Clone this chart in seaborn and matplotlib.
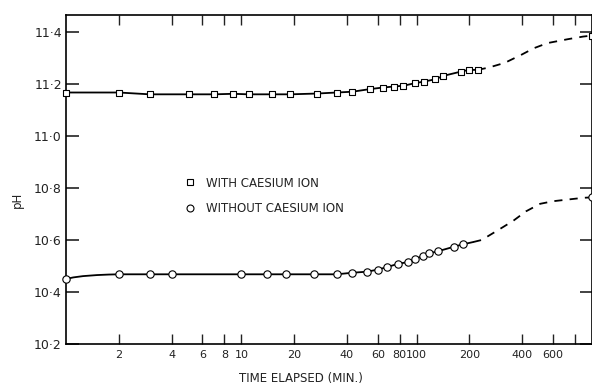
import matplotlib
matplotlib.use("Agg")
import matplotlib.pyplot as plt
import seaborn as sns
from matplotlib.lines import Line2D
from matplotlib.ticker import FixedLocator, FixedFormatter, NullLocator

# ---- data ----
with_t = [1, 2, 3, 5, 7, 9, 11, 15, 19, 27, 35, 43, 54, 64, 74, 84, 98, 110, 128, 142, 178, 198, 223]
with_ph = [11.167, 11.167, 11.160, 11.160, 11.160, 11.162, 11.160, 11.160, 11.160, 11.163, 11.167,
           11.170, 11.180, 11.186, 11.190, 11.193, 11.203, 11.209, 11.218, 11.231, 11.247, 11.254, 11.254]
with_ext_t = [223, 258, 318, 398, 465, 557, 728, 889, 1000]
with_ext_ph = [11.254, 11.263, 11.281, 11.313, 11.337, 11.357, 11.372, 11.382, 11.386]

without_t = [1, 2, 3, 4, 10, 14, 18, 26, 35, 43, 52, 60, 68, 78, 89, 98, 108, 117, 133, 163, 183]
without_ph = [10.450, 10.468, 10.468, 10.468, 10.468, 10.468, 10.468, 10.468, 10.468, 10.474, 10.478,
              10.486, 10.496, 10.508, 10.515, 10.527, 10.538, 10.548, 10.557, 10.574, 10.583]
without_head_t = [1, 1.1, 1.25, 1.5, 1.75, 2]
without_head_ph = [10.450, 10.456, 10.461, 10.465, 10.467, 10.468]
without_ext_t = [183, 210, 235, 298, 356, 420, 506, 600, 740, 890, 1000]
without_ext_ph = [10.583, 10.592, 10.600, 10.642, 10.674, 10.710, 10.739, 10.749, 10.756, 10.762, 10.764]

end_t = [1000]
with_end_ph = [11.386]
without_end_ph = [10.764]

x_ticks = [2, 4, 6, 8, 10, 20, 40, 60, 80, 100, 200, 400, 600, 800]
x_labels = ["2", "4", "6", "8", "10", "20", "40", "60", "80", "100", "200", "400", "600", ""]
y_ticks = [10.2, 10.4, 10.6, 10.8, 11.0, 11.2, 11.4]
y_labels = ["10·2", "10·4", "10·6", "10·8", "11·0", "11·2", "11·4"]

sns.set_theme(style="ticks")
plt.rcParams['font.family'] = ['DejaVu Sans']

fig = plt.figure(figsize=(5.92, 3.85), dpi=100)
ax = fig.add_axes([66 / 592, 41 / 385, 526 / 592, 329 / 385])

lw = 1.3
dash = (0, (4.5, 4.0))
# solid curves through the measured points
sns.lineplot(x=with_t, y=with_ph, ax=ax, color="black", lw=lw, sort=False, estimator=None)
sns.lineplot(x=without_head_t + without_t[1:], y=without_head_ph + without_ph[1:], ax=ax,
             color="black", lw=lw, sort=False, estimator=None)
sns.lineplot(x=without_ext_t[:2], y=without_ext_ph[:2], ax=ax, color="black", lw=lw,
             sort=False, estimator=None)
# dashed extrapolation
sns.lineplot(x=with_ext_t, y=with_ext_ph, ax=ax, color="black", lw=lw, sort=False,
             estimator=None, linestyle=dash)
sns.lineplot(x=without_ext_t[1:], y=without_ext_ph[1:], ax=ax, color="black", lw=lw, sort=False,
             estimator=None, linestyle=dash)

# markers
sns.scatterplot(x=with_t + end_t, y=with_ph + with_end_ph, ax=ax, marker="s", s=22,
                facecolor="white", edgecolor="black", linewidth=0.8, zorder=5, clip_on=False)
sns.scatterplot(x=without_t + end_t, y=without_ph + without_end_ph, ax=ax, marker="o", s=28,
                facecolor="white", edgecolor="black", linewidth=0.8, zorder=5, clip_on=False)

ax.set_xscale("log")
ax.set_xlim(1, 1000)
ax.set_ylim(10.2, 11.465)

ax.xaxis.set_major_locator(FixedLocator(x_ticks))
ax.xaxis.set_major_formatter(FixedFormatter(x_labels))
ax.xaxis.set_minor_locator(NullLocator())
ax.yaxis.set_major_locator(FixedLocator(y_ticks))
ax.yaxis.set_major_formatter(FixedFormatter(y_labels))
ax.yaxis.set_minor_locator(NullLocator())

ax.tick_params(axis="x", which="major", direction="in", length=7.5, width=1.0, top=True,
               labelsize=8, pad=4, colors="#222222")
ax.tick_params(axis="y", which="major", direction="in", length=9, width=1.2, right=True,
               labelsize=9, pad=3, colors="#222222")
for sp in ax.spines.values():
    sp.set_visible(True)
    sp.set_linewidth(1.2)
    sp.set_color("black")

ax.set_xlabel("TIME ELAPSED (MIN.)", fontsize=8.5, color="#222222")
ax.xaxis.set_label_coords(0.447, -0.085)
ax.set_ylabel("pH", fontsize=8.5, color="#222222")
ax.yaxis.set_label_coords(-0.08, 0.438)

handles = [
    Line2D([], [], marker="s", linestyle="none", markersize=5, markerfacecolor="white",
           markeredgecolor="black", markeredgewidth=0.8, label="WITH CAESIUM ION"),
    Line2D([], [], marker="o", linestyle="none", markersize=5, markerfacecolor="white",
           markeredgecolor="black", markeredgewidth=0.8, label="WITHOUT CAESIUM ION"),
]
ax.legend(handles=handles, loc="center left", bbox_to_anchor=((178 - 66) / 526, (344 - 196) / 329),
          frameon=False, fontsize=8.5, borderpad=0, handlelength=1.0, handletextpad=0.9,
          labelspacing=1.1, labelcolor="#222222")

fig.savefig("out.png", dpi=100)
